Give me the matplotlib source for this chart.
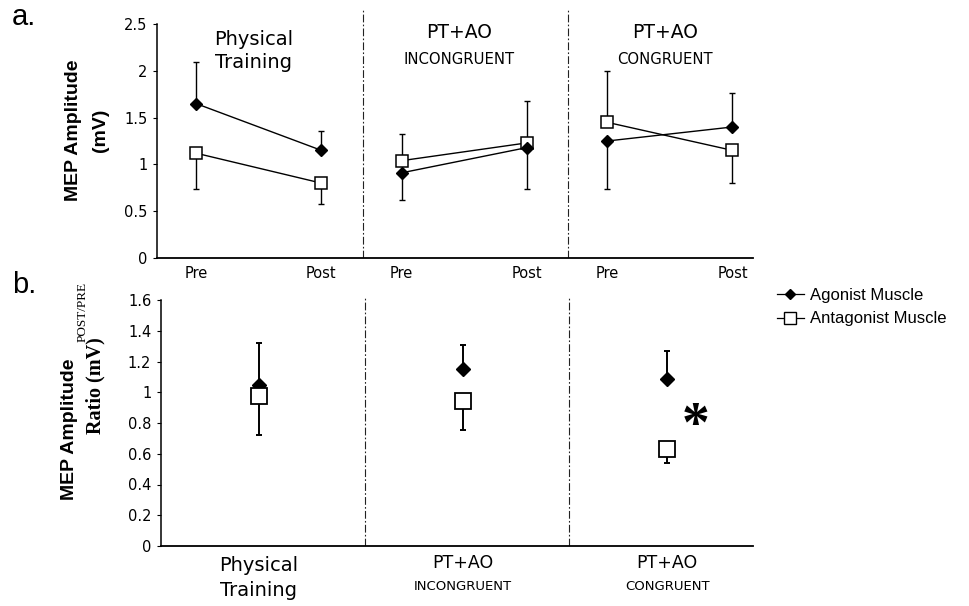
import matplotlib

matplotlib.use("Agg")
import matplotlib.pyplot as plt
from matplotlib.lines import Line2D
from matplotlib.ticker import FuncFormatter
import numpy as np

# ---- data -------------------------------------------------------------
groups = ["Physical Training", "PT+AO INCONGRUENT", "PT+AO CONGRUENT"]
time_labels = ["Pre", "Post"]

# panel a: MEP amplitude (mV)
ago_pre = [1.65, 0.91, 1.25]
ago_post = [1.15, 1.18, 1.40]
ant_pre = [1.12, 1.04, 1.45]
ant_post = [0.80, 1.23, 1.15]

# error bars are drawn one-sided (lower, upper)
ago_pre_lo = [0.0, 0.29, 0.51]
ago_pre_hi = [0.44, 0.0, 0.0]
ago_post_lo = [0.0, 0.44, 0.0]
ago_post_hi = [0.21, 0.0, 0.36]
ant_pre_lo = [0.38, 0.0, 0.0]
ant_pre_hi = [0.0, 0.28, 0.55]
ant_post_lo = [0.22, 0.0, 0.35]
ant_post_hi = [0.0, 0.45, 0.0]

# panel b: post/pre ratio
ratio_ago = [1.05, 1.15, 1.085]
ratio_ago_hi = [0.27, 0.16, 0.185]
ratio_ant = [0.975, 0.94, 0.63]
ratio_ant_lo = [0.255, 0.185, 0.09]
signif = [False, False, True]

# ---- style ------------------------------------------------------------
TICK_FONT = "DejaVu Sans"
LABEL_FONT = "Liberation Sans"
SERIF_FONT = "Liberation Serif"
DIVIDER = dict(color="#222222", lw=0.8, ls=(0, (7, 2, 1.5, 2)))

fig = plt.figure(figsize=(9.69, 6.06), dpi=100)
W, H = 969, 606


def px_axes(left, top, right, bottom):
    return fig.add_axes([left / W, 1 - bottom / H, (right - left) / W, (bottom - top) / H])


def style_axis(ax, ymax_tick, step):
    for side in ("top", "right"):
        ax.spines[side].set_visible(False)
    ax.spines["left"].set_bounds(0, ymax_tick)
    ax.spines["left"].set_linewidth(1.1)
    ax.spines["bottom"].set_linewidth(1.3)
    ax.set_yticks(np.arange(0, ymax_tick + step / 2, step))
    ax.yaxis.set_major_formatter(FuncFormatter(lambda v, _: f"{v:g}"))
    ax.tick_params(axis="y", direction="out", length=3, width=0.8, pad=4,
                   labelsize=10.5, labelfontfamily=TICK_FONT)


g = np.arange(len(groups))

# ---- panel a ------------------------------------------------------------
ax_a = px_axes(157, 10, 753, 258)
style_axis(ax_a, 2.5, 0.5)
ax_a.set_ylim(0, 2.65)
ax_a.set_xlim(0, 2.9)

pre_x = g + 0.19
post_x = g + 0.80

for i in range(len(groups)):
    xs = [pre_x[i], post_x[i]]
    ax_a.plot(xs, [ant_pre[i], ant_post[i]], color="black", lw=1.0, zorder=2)
    ax_a.plot(xs, [ago_pre[i], ago_post[i]], color="black", lw=1.0, zorder=2)

for x, y, lo, hi in [(pre_x, ago_pre, ago_pre_lo, ago_pre_hi),
                     (post_x, ago_post, ago_post_lo, ago_post_hi),
                     (pre_x, ant_pre, ant_pre_lo, ant_pre_hi),
                     (post_x, ant_post, ant_post_lo, ant_post_hi)]:
    ax_a.errorbar(x, y, yerr=[lo, hi], fmt="none", ecolor="black",
                  elinewidth=1.0, capsize=2.5, capthick=1.0, zorder=1)

ax_a.plot(np.r_[pre_x, post_x], ant_pre + ant_post, ls="none", marker="s", ms=8.5,
          mfc="white", mec="black", mew=1.1, zorder=3)
ax_a.plot(np.r_[pre_x, post_x], ago_pre + ago_post, ls="none", marker="D", ms=6,
          mfc="black", mec="black", zorder=4)

for d in (1, 2):
    ax_a.axvline(d, **DIVIDER, zorder=0)

ax_a.set_xticks(np.r_[pre_x, post_x])
ax_a.set_xticklabels(time_labels[:1] * 3 + time_labels[1:] * 3)
ax_a.tick_params(axis="x", length=0, pad=5.5, labelsize=10.5, labelfontfamily=TICK_FONT)

title_x = g + 0.47
ax_a.text(title_x[0], 2.33, "Physical", ha="center", va="center", fontsize=14, family=TICK_FONT)
ax_a.text(title_x[0], 2.09, "Training", ha="center", va="center", fontsize=14, family=TICK_FONT)
for i, sub in ((1, "INCONGRUENT"), (2, "CONGRUENT")):
    ax_a.text(title_x[i], 2.41, "PT+AO", ha="center", va="center", fontsize=13.5, family=TICK_FONT)
    ax_a.text(title_x[i], 2.12, sub, ha="center", va="center", fontsize=10.7, family=TICK_FONT)

fig.text(73 / W, 1 - 130 / H, "MEP Amplitude", rotation=90, ha="center", va="center",
         fontsize=14, fontweight="bold", family=LABEL_FONT)
fig.text(100 / W, 1 - 130 / H, "(mV)", rotation=90, ha="center", va="center",
         fontsize=14, fontweight="bold", family=LABEL_FONT)
fig.text(12 / W, 1 - 25 / H, "a.", fontsize=21, family=LABEL_FONT, va="baseline")

# ---- panel b ------------------------------------------------------------
ax_b = px_axes(161, 298, 753, 546)
style_axis(ax_b, 1.6, 0.2)
ax_b.set_ylim(0, 1.6 * 248 / 246)
ax_b.set_xlim(0, 2.9)
ax_b.set_xticks([])

ratio_x = g + 0.48
ax_b.errorbar(ratio_x, ratio_ago, yerr=[np.zeros(3), ratio_ago_hi], fmt="none", ecolor="black",
              elinewidth=1.4, capsize=2.5, capthick=1.4, zorder=1)
ax_b.errorbar(ratio_x, ratio_ant, yerr=[ratio_ant_lo, np.zeros(3)], fmt="none", ecolor="black",
              elinewidth=1.4, capsize=2.5, capthick=1.4, zorder=1)
ax_b.plot(ratio_x, ratio_ago, ls="none", marker="D", ms=7, mfc="black", mec="black", zorder=3)
ax_b.plot(ratio_x, ratio_ant, ls="none", marker="s", ms=11, mfc="white", mec="black",
          mew=1.3, zorder=4)

for i, star in enumerate(signif):
    if star:
        ax_b.annotate("*", (ratio_x[i] + 0.14, (ratio_ago[i] + ratio_ant[i]) / 2),
                      xytext=(0, -9), textcoords="offset points", ha="center", va="center",
                      fontsize=40, fontweight="bold", family=SERIF_FONT)

for d in (1, 2):
    ax_b.axvline(d, **DIVIDER, zorder=0)

xcoords = ("data", "axes fraction")
ax_b.annotate("Physical", (ratio_x[0], 0), xycoords=xcoords, xytext=(0, -14), textcoords="offset points",
              ha="center", va="center", fontsize=14, family=TICK_FONT)
ax_b.annotate("Training", (ratio_x[0], 0), xycoords=xcoords, xytext=(0, -32), textcoords="offset points",
              ha="center", va="center", fontsize=14, family=TICK_FONT)
for i, sub in ((1, "INCONGRUENT"), (2, "CONGRUENT")):
    ax_b.annotate("PT+AO", (ratio_x[i], 0), xycoords=xcoords, xytext=(0, -12), textcoords="offset points",
                  ha="center", va="center", fontsize=12.5, family=TICK_FONT)
    ax_b.annotate(sub, (ratio_x[i], 0), xycoords=xcoords, xytext=(0, -29), textcoords="offset points",
                  ha="center", va="center", fontsize=9.5, family=TICK_FONT)

fig.text(70 / W, 1 - 429 / H, "MEP Amplitude", rotation=90, ha="center", va="center",
         fontsize=14, fontweight="bold", family=LABEL_FONT)
fig.text(83 / W, 1 - 312 / H, "POST/PRE", rotation=90, ha="center", va="center",
         fontsize=9.5, family=SERIF_FONT)
fig.text(95 / W, 1 - 386 / H, "Ratio (mV)", rotation=90, ha="center", va="center",
         fontsize=14.5, fontweight="bold", family=SERIF_FONT)
fig.text(12 / W, 1 - 293 / H, "b.", fontsize=21, family=LABEL_FONT, va="baseline")

# ---- legend -------------------------------------------------------------
handles = [
    Line2D([], [], color="black", lw=0.9, marker="D", ms=5.5, mfc="black", mec="black"),
    Line2D([], [], color="black", lw=0.9, marker="s", ms=8, mfc="white", mec="black", mew=1.0),
]
fig.legend(handles, ["Agonist Muscle", "Antagonist Muscle"], loc="upper left",
           bbox_to_anchor=(762 / W, 1 - 273 / H), frameon=False, handlelength=1.6,
           handletextpad=0.4, labelspacing=0.5, prop={"family": LABEL_FONT, "size": 12})

fig.savefig("out.png", dpi=100)
